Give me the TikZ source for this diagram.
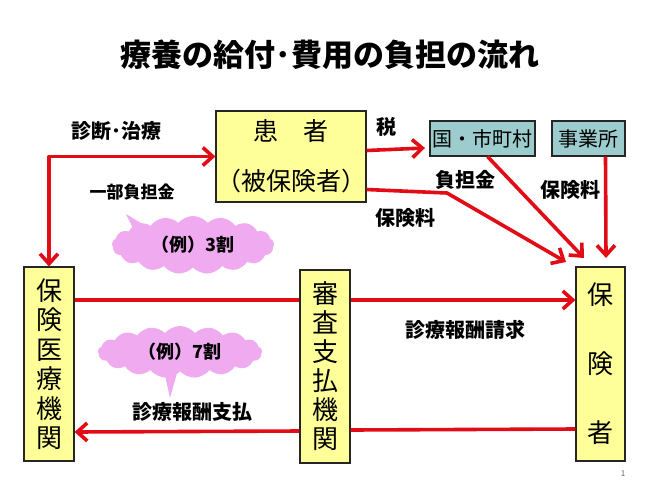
\documentclass[tikz,border=0pt]{standalone}
\usepackage{fontspec}
\setmainfont{Noto Sans CJK JP}
\usetikzlibrary{arrows.meta,shapes.symbols,calc}
\definecolor{boxyellow}{RGB}{255,255,153}
\definecolor{boxteal}{RGB}{156,204,206}
\definecolor{arrred}{RGB}{226,12,22}
\definecolor{cloudpink}{RGB}{240,170,240}
\tikzset{
  ybox/.style={draw=black!85, line width=1.1pt, fill=boxyellow, inner sep=0pt, align=center},
  tbox/.style={draw=black!85, line width=1.1pt, fill=boxteal, inner sep=0pt, align=center,
    font=\fontsize{20}{20}\selectfont},
  arr/.style={draw=arrred, line width=3.6pt, line join=round},
  tip/.style={-{Straight Barb[length=10pt,width=18pt]}},
  lbl/.style={font=\fontsize{20}{20}\selectfont\bfseries, inner sep=0pt},
  cloudbox/.style={cloud, cloud puffs=17, cloud puff arc=100, cloud ignores aspect,
    fill=cloudpink, inner sep=0pt, font=\fontsize{18}{18}\selectfont\bfseries}
}
\begin{document}
\begin{tikzpicture}[x=1pt,y=-1pt]
\useasboundingbox[fill=white] (0,0) rectangle (650,488);

\node[font=\fontsize{31}{31}\selectfont\bfseries] (title) at (330,55) {療養の給付･費用の負担の流れ};

% boxes
\node[ybox, minimum width=142pt, minimum height=91pt, font=\fontsize{25}{50}\selectfont] (pat) at (291,156.5) {患　者\\（被保険者）};
\node[tbox, minimum width=105pt, minimum height=35pt] (kuni) at (482.5,138.5) {国・市町村};
\node[tbox, minimum width=73pt, minimum height=35pt] (jigyo) at (588.5,138.5) {事業所};
\node[ybox, minimum width=50pt, minimum height=194pt, font=\fontsize{26}{29.5}\selectfont] (iryo) at (49,364) {保\\険\\医\\療\\機\\関};
\node[ybox, minimum width=50pt, minimum height=193pt, font=\fontsize{26}{29}\selectfont] (shinsa) at (325,366.5) {審\\査\\支\\払\\機\\関};
\node[ybox, minimum width=49pt, minimum height=194pt, font=\fontsize{26}{69}\selectfont] (hoken) at (600.5,364) {保\\険\\者};

% clouds
\fill[cloudpink] (134,230) -- (126,214) -- (146,226) -- cycle;
\node[cloudbox, minimum width=162pt, minimum height=58pt] (c3) at (193,245) {（例）3割};
\fill[cloudpink] (163,366) -- (170,398) -- (179,366) -- cycle;
\node[cloudbox, minimum width=164pt, minimum height=52pt] (c7) at (180,352) {（例）7割};

% coordinates
\coordinate (e0) at (425,148);
\coordinate (p1) at (447,193);
\coordinate (e1) at (566,262);
\coordinate (e2) at (584,258);
\coordinate (e3) at (606,258);

% arrows
\draw[arr, {Straight Barb[length=10pt,width=18pt]}-{Straight Barb[length=10pt,width=18pt]}] (pat.west) -| (iryo.north);
\draw[arr, tip] ([yshift=6pt]pat.east) -- (e0);
\draw[arr, tip] ([yshift=-33pt]pat.east) -- (p1) -- (e1);
\draw[arr, tip] ([xshift=5pt]kuni.south) -- (e2);
\draw[arr, tip] ([xshift=17pt]jigyo.south) -- (e3);
\draw[arr] (iryo.east |- 0,300) -- (shinsa.west |- 0,300);
\draw[arr, tip] (shinsa.east |- 0,300) -- (hoken.west |- 0,300);
\draw[arr] (hoken.west |- 0,429) -- (shinsa.east |- 0,430);
\draw[arr, tip] (shinsa.west |- 0,431) -- (iryo.east |- 0,432);

% labels
\node[lbl] (l1) at (116,131) {診断･治療};
\node[lbl, font=\fontsize{17}{17}\selectfont\bfseries] (l2) at (132,192) {一部負担金};
\node[lbl] (l3) at (386,127) {税};
\node[lbl] (l4) at (465,180) {負担金};
\node[lbl] (l5) at (405,218) {保険料};
\node[lbl] (l6) at (570,190) {保険料};
\node[lbl] (l7) at (465,330) {診療報酬請求};
\node[lbl] (l8) at (192,412) {診療報酬支払};
\node[font=\fontsize{8}{8}\selectfont, text=black!60] (pg) at (623,474) {1};
\end{tikzpicture}
\end{document}
